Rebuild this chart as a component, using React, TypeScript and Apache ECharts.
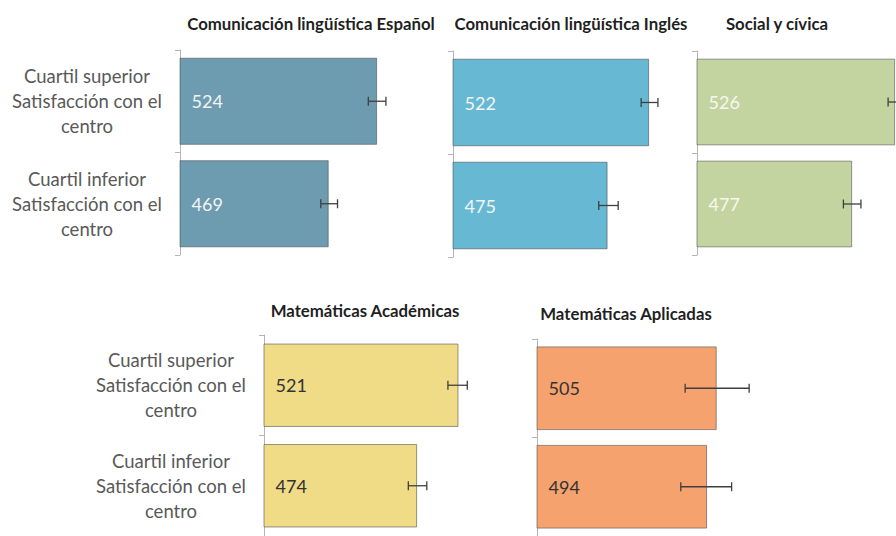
import React, { useEffect, useRef } from "react";
import * as echarts from "echarts";

const categories = [
  "Cuartil superior\nSatisfacción con el\ncentro",
  "Cuartil inferior\nSatisfacción con el\ncentro",
];

const titles = [
  "Comunicación lingüística Español",
  "Comunicación lingüística Inglés",
  "Social y cívica",
  "Matemáticas Académicas",
  "Matemáticas Aplicadas",
];

const espanolValues = [524, 469];
const inglesValues = [522, 475];
const socialValues = [526, 477];
const academicasValues = [521, 474];
const aplicadasValues = [505, 494];

// error intervals [low, high]
const espanolErr = [[514, 534], [460, 479]];
const inglesErr = [[513, 532], [465, 487]];
const socialErr = [[518, 535], [467, 487]];
const academicasErr = [[509, 531], [464, 485]];
const aplicadasErr = [[469, 542], [464, 522]];

const axisMin = 300;
const axisMax = 600;
// the third panel is cut at the right edge of the picture
const socialVisibleMax = 527;

const panels = [
  { values: espanolValues, err: espanolErr, max: axisMax, color: "#6D9BB0", labelColor: "#F4F4F4", grid: { left: 180, top: 50, width: 264, height: 205 }, showCats: true, gap: "15%", title: [311, 23] },
  { values: inglesValues, err: inglesErr, max: axisMax, color: "#67B9D3", labelColor: "#F4F4F4", grid: { left: 453, top: 51, width: 265, height: 206 }, showCats: false, gap: "15%", title: [571, 23] },
  { values: socialValues, err: socialErr, max: socialVisibleMax, color: "#C4D4A0", labelColor: "#F7F7F0", grid: { left: 697, top: 51, width: 199, height: 204 }, showCats: false, gap: "15%", title: [777, 23] },
  { values: academicasValues, err: academicasErr, max: axisMax, color: "#F0DB86", labelColor: "#333333", grid: { left: 264, top: 335, width: 264, height: 204 }, showCats: true, gap: "17%", title: [365, 310] },
  { values: aplicadasValues, err: aplicadasErr, max: axisMax, color: "#F5A26F", labelColor: "#333333", grid: { left: 537, top: 339, width: 263, height: 206 }, showCats: false, gap: "15%", title: [626, 313] },
];

export default function App() {
  const ref = useRef<HTMLDivElement>(null);

  useEffect(() => {
    if (!ref.current) return;
    const chart = echarts.init(ref.current, null, { renderer: "svg" });

    const grids: any[] = [];
    const xAxes: any[] = [];
    const yAxes: any[] = [];
    const series: any[] = [];
    const graphics: any[] = [];

    panels.forEach((p, i) => {
      grids.push({ ...p.grid, containLabel: false });
      xAxes.push({
        type: "value",
        gridIndex: i,
        min: axisMin,
        max: p.max,
        show: false,
        splitLine: { show: false },
      });
      yAxes.push({
        type: "category",
        gridIndex: i,
        data: categories,
        inverse: true,
        axisLine: { show: true, lineStyle: { color: "#B5B5B5", width: 1 } },
        axisTick: { show: true, length: 5, lineStyle: { color: "#B5B5B5" } },
        axisLabel: {
          show: p.showCats,
          align: "center",
          margin: 93,
          fontFamily: "Lato",
          fontSize: 18.5,
          lineHeight: 25,
          color: "#595959",
        },
      });
      series.push({
        type: "bar",
        xAxisIndex: i,
        yAxisIndex: i,
        data: p.values,
        barCategoryGap: p.gap,
        itemStyle: {
          color: p.color,
          borderColor: "rgba(70,70,70,0.55)",
          borderWidth: 1,
        },
        label: {
          show: true,
          position: "insideLeft",
          distance: 12,
          fontFamily: "Lato",
          fontSize: 18,
          color: p.labelColor,
        },
      });
      series.push({
        type: "custom",
        xAxisIndex: i,
        yAxisIndex: i,
        data: p.err.map((e, k) => [k, e[0], e[1]]),
        encode: { y: 0, x: [1, 2] },
        z: 5,
        clip: false,
        renderItem: (params: any, api: any) => {
          const cat = api.value(0);
          const a = api.coord([api.value(1), cat]);
          const b = api.coord([api.value(2), cat]);
          const h = 4.5;
          const style = { stroke: "#3F3F3F", lineWidth: 1.3 };
          return {
            type: "group",
            children: [
              { type: "line", shape: { x1: a[0], y1: a[1], x2: b[0], y2: b[1] }, style },
              { type: "line", shape: { x1: a[0], y1: a[1] - h, x2: a[0], y2: a[1] + h }, style },
              { type: "line", shape: { x1: b[0], y1: b[1] - h, x2: b[0], y2: b[1] + h }, style },
            ],
          };
        },
      });
      graphics.push({
        type: "text",
        x: p.title[0],
        y: p.title[1],
        style: {
          text: titles[i],
          align: "center",
          verticalAlign: "middle",
          fontFamily: "Lato",
          fontWeight: "bold",
          fontSize: 16.8,
          fill: "#1F1F1F",
        },
      });
    });

    chart.setOption({
      animation: false,
      backgroundColor: "#FFFFFF",
      grid: grids,
      xAxis: xAxes,
      yAxis: yAxes,
      series,
      graphic: graphics,
    });

    return () => chart.dispose();
  }, []);

  return (
    <div
      ref={ref}
      style={{ position: "fixed", left: 0, top: 0, width: 896, height: 536 }}
    />
  );
}
